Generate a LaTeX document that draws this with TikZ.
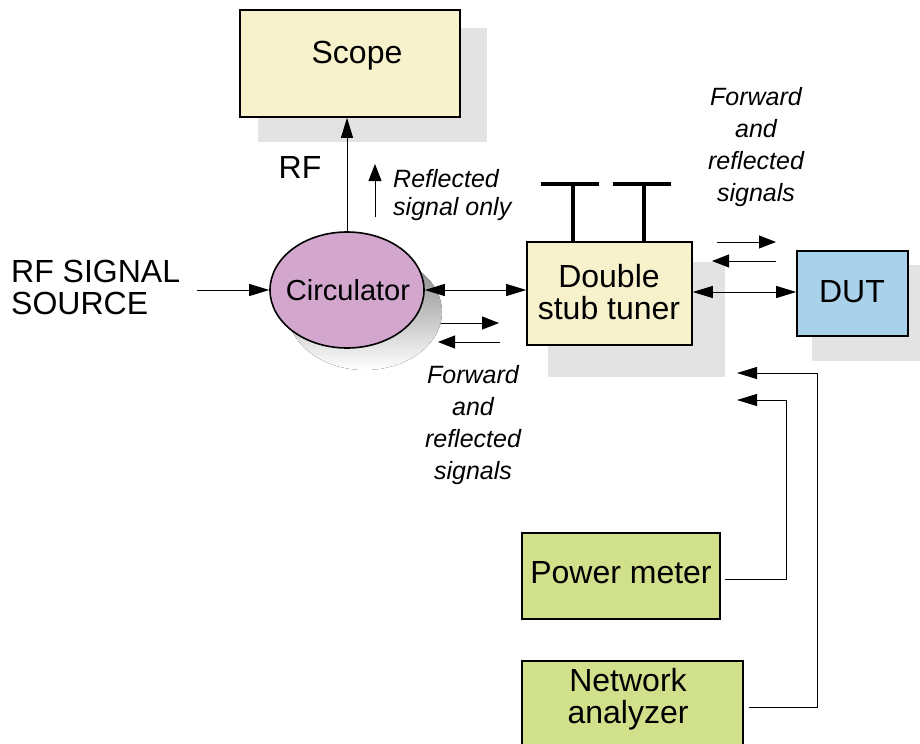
\documentclass[tikz,border=0pt]{standalone}
\usepackage{fontspec}
\setmainfont{Liberation Sans}
\usetikzlibrary{arrows.meta,shapes.geometric}
\definecolor{boxyellow}{HTML}{F8F2CC}
\definecolor{circpink}{HTML}{D3A6CE}
\definecolor{dutblue}{HTML}{A9D1EA}
\definecolor{meas}{HTML}{D0E08B}
\definecolor{shade}{HTML}{E3E3E3}
\tikzset{
  mainfont/.style={font=\fontsize{32bp}{32bp}\selectfont},
  itfont/.style={font=\fontsize{25bp}{32bp}\selectfont\itshape},
  boxbase/.style={draw=black, line width=1.6bp, rectangle, inner sep=0pt, mainfont, align=center},
  shadowfill/.style={fill=shade, draw=none},
  conn/.style={line width=0.9bp, -{Triangle[length=20bp,width=12bp]}},
  biconn/.style={line width=0.9bp, {Triangle[length=20bp,width=12bp]}-{Triangle[length=20bp,width=12bp]}},
  smallarrow/.style={line width=0.9bp, -{Triangle[length=17bp,width=13bp]}},
  stubline/.style={line width=3.5bp}
}
\begin{document}
\begin{tikzpicture}[x=1bp,y=-1bp]
\useasboundingbox (0,0) rectangle (920,744);
% shadows
\fill[shadowfill] (258,28) rectangle (487,142);
\fill[shadowfill] (548,262) rectangle (725,377);
\fill[shadowfill] (812,265) rectangle (925,361);
\fill[shade] (365,312) ellipse [x radius=77, y radius=58];
% boxes
\node[boxbase, fill=boxyellow, minimum width=220bp, minimum height=107bp] (scope) at (350,63.5) {};
\node[mainfont, inner sep=0pt] (scopetext) at (357,56) {Scope};
\node[boxbase, ellipse, fill=circpink, minimum width=154bp, minimum height=116bp] (circ) at (347,290) {};
\node[font=\fontsize{29bp}{29bp}\selectfont, inner sep=0pt] (circtext) at (348,290) {Circulator};
\node[boxbase, fill=boxyellow, minimum width=165bp, minimum height=103bp] (tuner) at (609.5,293.5) {};
\node[mainfont, align=center, inner sep=0pt] (tunertext) at (609,292) {Double\\stub tuner};
\node[boxbase, fill=dutblue, minimum width=111bp, minimum height=85bp] (dut) at (852.5,293.5) {};
\node[mainfont, inner sep=0pt] (duttext) at (852,292) {DUT};
\node[boxbase, fill=meas, minimum width=198bp, minimum height=86bp] (pm) at (621,576) {};
\node[mainfont, inner sep=0pt] (pmtext) at (621,573) {Power meter};
\node[boxbase, fill=meas, minimum width=221bp, minimum height=110bp] (na) at (632.5,716) {};
\node[mainfont, align=center, inner sep=0pt] (natext) at (628,699) {Network\\analyzer};
% texts
\node[mainfont, align=left, anchor=west, inner sep=0pt] (srctext) at (11,287) {RF SIGNAL\\SOURCE};
\node[mainfont, inner sep=0pt] (rf) at (300,167) {RF};
\node[font=\fontsize{25bp}{28bp}\selectfont\itshape, align=left, anchor=west, inner sep=0pt] (refl) at (393,195) {Reflected\\signal only};
\node[itfont, align=center, inner sep=0pt] (fwd1) at (756,147) {Forward\\and\\reflected\\signals};
\node[itfont, align=center, inner sep=0pt] (fwd2) at (473,425) {Forward\\and\\reflected\\signals};
% coordinates
\coordinate (src) at (197,290);
\coordinate (reflA) at (375,217);
\coordinate (reflB) at (375,164);
\coordinate (c1a) at (441,323);
\coordinate (c1b) at (499,323);
\coordinate (c2a) at (500,342);
\coordinate (c2b) at (438,342);
\coordinate (d1a) at (717,242);
\coordinate (d1b) at (776,242);
\coordinate (d2a) at (776,261);
\coordinate (d2b) at (712,261);
\coordinate (s1) at (573,184);
\coordinate (s2) at (644,184);
\coordinate (pmin) at (737,400);
\coordinate (nain) at (737,373);
% connectors
\draw[conn] (src) -- (circ.west);
\draw[conn] (circ.north) -- (scope.south -| circ.north);
\draw[smallarrow] (reflA) -- (reflB);
\draw[biconn] (circ.east) -- (tuner.west |- circ.east);
\draw[biconn] (tuner.east |- 0,292) -- (dut.west |- 0,292);
\draw[smallarrow] (c1a) -- (c1b);
\draw[smallarrow] (c2a) -- (c2b);
\draw[smallarrow] (d1a) -- (d1b);
\draw[smallarrow] (d2a) -- (d2b);
% stubs
\draw[stubline] ([xshift=-32bp]s1) -- ([xshift=26bp]s1);
\draw[stubline] (s1) -- (s1 |- tuner.north);
\draw[stubline] ([xshift=-31bp]s2) -- ([xshift=27bp]s2);
\draw[stubline] (s2) -- (s2 |- tuner.north);
% measurement lines
\draw[conn] ([xshift=4bp,yshift=-3bp]pm.east) -| (786,400) -- (pmin);
\draw[conn] ([xshift=5bp]na.east |- 0,707) -| (817,373) -- (nain);
\end{tikzpicture}
\end{document}
